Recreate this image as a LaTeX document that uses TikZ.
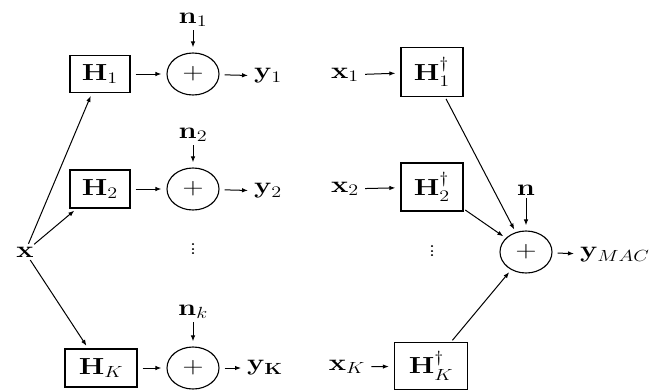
\documentclass[tikz,border=0pt]{standalone}
\usepackage{amsmath,graphicx}
\usetikzlibrary{shapes.geometric,arrows.meta}
\newcommand{\hstr}[1]{\scalebox{1.4}[1.12]{#1}}
\begin{document}
\begin{tikzpicture}[x=1pt,y=-1pt,
  font=\fontsize{20}{24}\selectfont,
  blk/.style={draw,line width=1.3pt,inner sep=0pt},
  sm/.style={draw,ellipse,line width=1.1pt,minimum width=52pt,minimum height=42pt,inner sep=0pt},
  lbl/.style={inner sep=1pt},
  arr/.style={-{Latex[length=6pt,width=4.5pt]},line width=1pt,shorten <=5pt,shorten >=5pt},
  darr/.style={-{Latex[length=6pt,width=4.5pt]},line width=1pt,shorten <=2pt,shorten >=3pt},
  narr/.style={-{Latex[length=6pt,width=4.5pt]},line width=1pt,shorten <=2pt,shorten >=5pt}]
\useasboundingbox (0,0) rectangle (659,389);
% left column
\node[lbl] (x) at (25,252) {\hstr{$\mathbf{x}$}};
\node[blk,minimum width=60pt,minimum height=37pt] (H1) at (100,74) {\hstr{$\mathbf{H}_1$}};
\node[sm] (s1) at (193,74) {\hstr{$+$}};
\node[lbl] (n1) at (193,20) {\hstr{$\mathbf{n}_1$}};
\node[lbl,anchor=west] (y1) at (253,76) {\hstr{$\mathbf{y}_1$}};
\node[blk,minimum width=60pt,minimum height=38pt] (H2) at (100,189) {\hstr{$\mathbf{H}_2$}};
\node[sm] (s2) at (193,189) {\hstr{$+$}};
\node[lbl] (n2) at (193,135) {\hstr{$\mathbf{n}_2$}};
\node[lbl,anchor=west] (y2) at (253,191) {\hstr{$\mathbf{y}_2$}};
\node[lbl] (d1) at (193,246) {\hstr{$\vdots$}};
\node[blk,minimum width=72pt,minimum height=38pt] (HK) at (101,368) {\hstr{$\mathbf{H}_K$}};
\node[sm] (sK) at (193,368) {\hstr{$+$}};
\node[lbl] (nK) at (193,312) {\hstr{$\mathbf{n}_k$}};
\node[lbl,anchor=west] (yK) at (246,368) {\hstr{$\mathbf{y}_{\mathbf{K}}$}};
% right column
\node[lbl] (x1) at (345,75) {\hstr{$\mathbf{x}_1$}};
\node[blk,minimum width=62pt,minimum height=49pt] (G1) at (432,72) {\hstr{$\mathbf{H}_1^\dagger$}};
\node[lbl] (x2) at (345,189) {\hstr{$\mathbf{x}_2$}};
\node[blk,minimum width=62pt,minimum height=48pt] (G2) at (432,187) {\hstr{$\mathbf{H}_2^\dagger$}};
\node[lbl] (d2) at (432,248) {\hstr{$\vdots$}};
\node[lbl] (xK) at (347,367) {\hstr{$\mathbf{x}_K$}};
\node[blk,minimum width=73pt,minimum height=47pt] (GK) at (431,366) {\hstr{$\mathbf{H}_K^\dagger$}};
\node[sm] (S) at (526,252) {\hstr{$+$}};
\node[lbl] (n) at (526,190) {\hstr{$\mathbf{n}$}};
\node[lbl,anchor=west] (yM) at (579,255) {\hstr{$\mathbf{y}_{MAC}$}};
% connectors
\draw[darr] (x) -- (H1);
\draw[darr] (x) -- (H2);
\draw[darr] (x) -- (HK);
\draw[arr] (H1) -- (s1);
\draw[arr] (s1) -- (y1);
\draw[narr] (n1) -- (s1);
\draw[arr] (H2) -- (s2);
\draw[arr] (s2) -- (y2);
\draw[narr] (n2) -- (s2);
\draw[arr] (HK) -- (sK);
\draw[arr] (sK) -- (yK);
\draw[narr] (nK) -- (sK);
\draw[arr] (x1) -- (G1);
\draw[arr] (x2) -- (G2);
\draw[arr] (xK) -- (GK);
\draw[darr] (G1) -- (S);
\draw[darr] (G2) -- (S);
\draw[darr] (GK) -- (S);
\draw[narr] (n) -- (S);
\draw[arr] (S) -- (yM);
\end{tikzpicture}
\end{document}
